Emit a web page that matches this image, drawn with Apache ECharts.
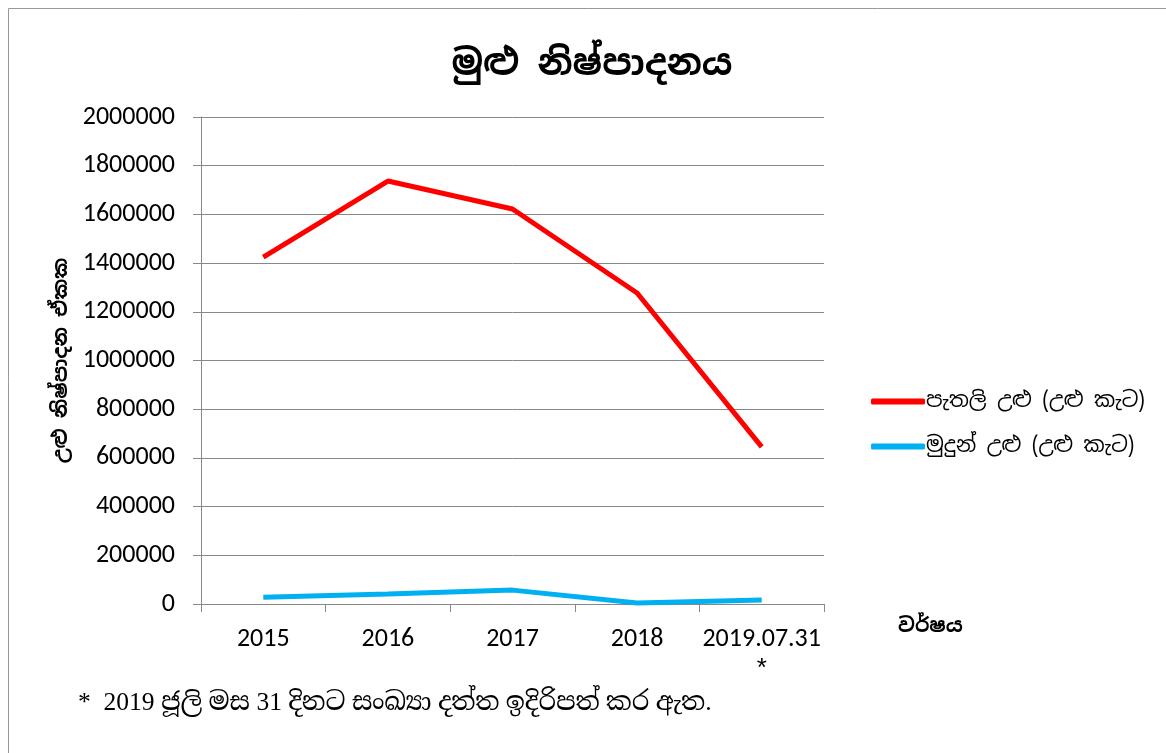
<!DOCTYPE html>
<html>
<head>
<meta charset="utf-8">
<script src="https://cdn.jsdelivr.net/npm/echarts@6/dist/echarts.min.js"></script>
<style>
  html, body { margin: 0; padding: 0; background: #fff; }
  #chart { width: 1166px; height: 753px; }
</style>
</head>
<body>
<div id="chart"></div>
<script>
// categories and values
var years = ['2015', '2016', '2017', '2018', '2019.07.31'];
var flatTiles = [1425000, 1737000, 1622000, 1277000, 645000];
var ridgeTiles = [28000, 41000, 57000, 4000, 16000];
var seriesNames = ['පැතලි උළු (උළු කැට)', 'මුදුන් උළු (උළු කැට)'];

var sinhala = '"Noto Sans Sinhala", "Iskoola Pota", "Noto Sans", "DejaVu Sans", sans-serif';
var numFont = 'Carlito, "Liberation Sans", sans-serif';

var myChart = echarts.init(document.getElementById('chart'));

var option = {
  animation: false,
  backgroundColor: '#fff',
  title: {
    text: 'මුළු නිෂ්පාදනය',
    left: 587,
    top: 42,
    textAlign: 'center',
    textStyle: { fontFamily: sinhala, fontSize: 36, fontWeight: 'bold', color: '#000' }
  },
  legend: {
    orient: 'vertical',
    left: 866,
    top: 386,
    itemWidth: 54,
    itemHeight: 6,
    itemGap: 24,
    icon: 'roundRect',
    textStyle: { fontFamily: sinhala, fontSize: 21, color: '#000', padding: [0, 0, 0, -4] },
    data: seriesNames
  },
  grid: { left: 201, right: 342, top: 117, bottom: 149 },
  xAxis: {
    type: 'category',
    data: years,
    boundaryGap: true,
    axisLine: { lineStyle: { color: '#888', width: 1 } },
    axisTick: { show: true, interval: 0, length: 8, lineStyle: { color: '#888' } },
    axisLabel: {
      interval: 0,
      margin: 22,
      fontFamily: numFont,
      fontSize: 26,
      color: '#000',
      formatter: function (v) {
        return v.indexOf('2019') === 0 ? v + '\n{s|*}' : v;
      },
      rich: { s: { fontFamily: '"Liberation Sans", sans-serif', fontSize: 26, lineHeight: 34, color: '#000' } }
    },
    name: 'වර්ෂය',
    nameLocation: 'end',
    nameGap: 74,
    nameTextStyle: { fontFamily: sinhala, fontSize: 20, fontWeight: 'bold', color: '#000', verticalAlign: 'top', padding: [12, 0, 0, 0] }
  },
  yAxis: {
    type: 'value',
    min: 0,
    max: 2000000,
    interval: 200000,
    axisLine: { show: true, lineStyle: { color: '#888', width: 1 } },
    axisTick: { show: true, length: 8, lineStyle: { color: '#888' } },
    splitLine: { lineStyle: { color: '#888', width: 1 } },
    axisLabel: {
      margin: 26,
      fontFamily: numFont,
      fontSize: 26,
      color: '#000',
      formatter: function (v) { return String(v); }
    },
    name: 'උළු නිෂ්පාදන ඒකක',
    nameLocation: 'middle',
    nameGap: 130,
    nameTextStyle: { fontFamily: sinhala, fontSize: 20, fontWeight: 'bold', color: '#000' }
  },
  series: [
    {
      name: seriesNames[0],
      type: 'line',
      data: flatTiles,
      showSymbol: false,
      symbol: 'none',
      itemStyle: { color: '#ff0000' },
      lineStyle: { color: '#ff0000', width: 5 }
    },
    {
      name: seriesNames[1],
      type: 'line',
      data: ridgeTiles,
      showSymbol: false,
      symbol: 'none',
      itemStyle: { color: '#00b0f0' },
      lineStyle: { color: '#00b0f0', width: 5 }
    }
  ],
  graphic: [
    {
      type: 'rect',
      shape: { x: 8.5, y: 8.5, width: 1170, height: 760 },
      style: { fill: 'none', stroke: '#999', lineWidth: 1 },
      silent: true
    },
    {
      type: 'text',
      left: 78,
      top: 690,
      style: {
        text: '*  2019 ජූලි මස 31 දිනට සංඛ්‍යා දත්ත ඉදිරිපත් කර ඇත.',
        font: '25.5px "Liberation Serif", "Noto Serif Sinhala", "Iskoola Pota", serif',
        fill: '#000'
      }
    }
  ]
};

myChart.setOption(option);
</script>
</body>
</html>
